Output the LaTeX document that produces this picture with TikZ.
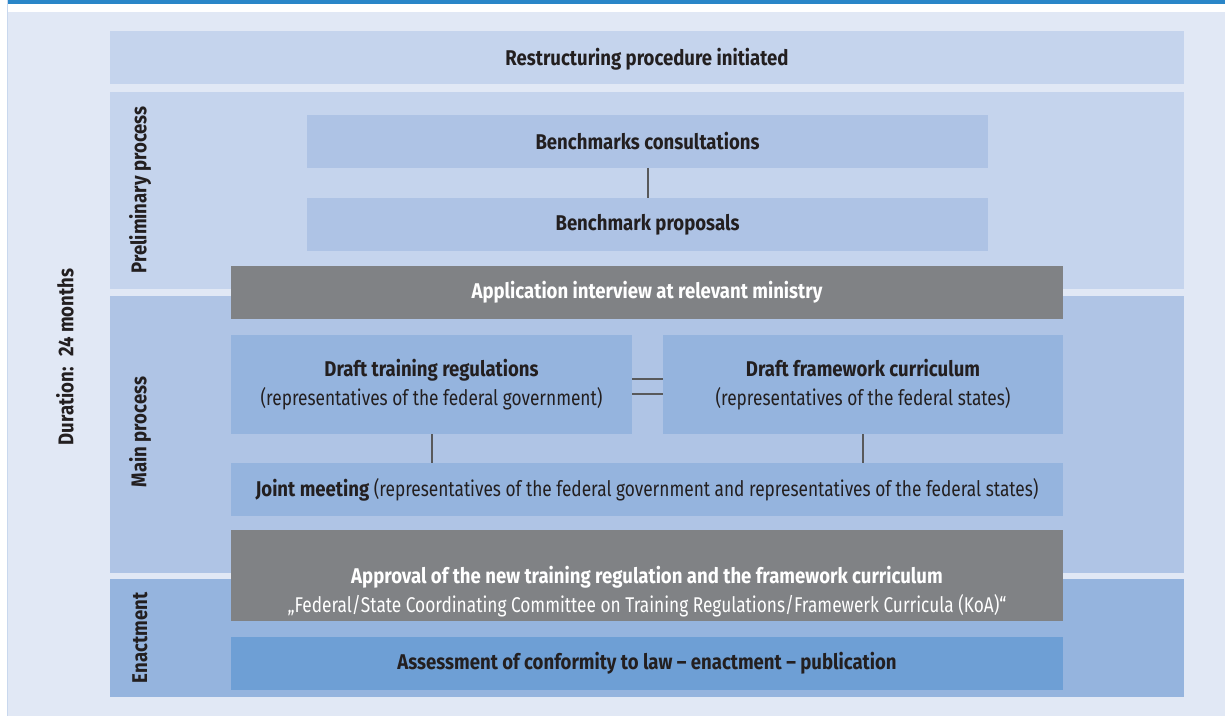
\documentclass[tikz,border=0pt]{standalone}
\usepackage{fontspec}
\setmainfont{Fira Sans}[FakeStretch=0.81, BoldFeatures={FakeStretch=0.87}]
\usetikzlibrary{calc}
\definecolor{topblue}{HTML}{2A86C8}
\definecolor{pagebg}{HTML}{E1E8F5}
\definecolor{edgeline}{HTML}{C9D8EE}
\definecolor{bandA}{HTML}{C5D4ED}
\definecolor{bandB}{HTML}{AFC4E5}
\definecolor{bandC}{HTML}{95B4DE}
\definecolor{benchbox}{HTML}{AEC3E5}
\definecolor{draftbox}{HTML}{95B4DE}
\definecolor{greybox}{HTML}{808285}
\definecolor{lawbox}{HTML}{6E9FD5}
\definecolor{ink}{HTML}{231F20}
\definecolor{linegrey}{HTML}{58595B}
\tikzset{
  blk/.style={draw=none, inner sep=0pt, outer sep=0pt, anchor=center},
  sz/.style 2 args={minimum width=#1*0.75pt, minimum height=#2*0.75pt},
  lbl/.style={inner sep=0pt, align=center, text=ink, font=\fontsize{16}{21.75}\selectfont},
  lblw/.style={lbl, text=white},
  bold/.style={font=\fontsize{16}{19}\selectfont\bfseries},
  conn/.style={draw=linegrey, line width=1.5pt},
}
\begin{document}
\begin{tikzpicture}[x=0.75pt, y=-0.75pt]
\useasboundingbox (0,0) rectangle (1225,716);
\fill[white] (0,0) rectangle (1225,716);
\fill[pagebg] (7,12) rectangle (1225,716);
\fill[topblue] (7,0) rectangle (1225,4);
\draw[edgeline, line width=0.75pt] (7.5,0) -- (7.5,716);
% bands
\node[blk, fill=bandA, sz={1074}{53}] (restr) at (647,57.5) {};
\node[blk, fill=bandA, sz={1074}{197}] (prelim) at (647,190.5) {};
\node[blk, fill=bandB, sz={1074}{277}] (mainp) at (647,434.5) {};
\node[blk, fill=bandC, sz={1074}{118}] (enact) at (647,638) {};
% band labels
\node[lbl, bold] (restrtxt) at (647,59.5) {Restructuring procedure initiated};
\node[lbl, bold, rotate=90] (duration) at (65,357) {Duration:~ 24 months};
\node[lbl, bold, rotate=90] (prelimtxt) at (140,190) {Preliminary process};
\node[lbl, bold, rotate=90] (maintxt) at (140,432) {Main process};
\node[lbl, bold, rotate=90] (enacttxt) at (140,638) {Enactment};
% inner boxes
\node[blk, fill=benchbox, sz={681}{53}, lbl, bold] (consult) at (647.5,141.5) {Benchmarks consultations};
\node[blk, fill=benchbox, sz={681}{53}, lbl, bold] (proposals) at (647.5,224.5) {Benchmark proposals};
\node[blk, fill=greybox, sz={832}{53}, lblw, bold] (interview) at (647,292.5) {Application interview at relevant ministry};
\node[blk, fill=draftbox, sz={401}{99}, lbl] (regs) at (431.5,385) {\textbf{Draft training regulations}\\(representatives of the federal government)};
\node[blk, fill=draftbox, sz={400}{99}, lbl] (curric) at (863,385) {\textbf{Draft framework curriculum}\\(representatives of the federal states)};
\node[blk, fill=draftbox, sz={832}{53}, lbl] (joint) at (647,489.5) {\textbf{Joint meeting} (representatives of the federal government and representatives of the federal states)};
\node[blk, fill=greybox, sz={832}{91}] (approval) at (647,575.5) {};
\node[lblw] (approvaltxt) at (647,592) {\textbf{Approval of the new training regulation and the framework curriculum}\\„Federal/State Coordinating Committee on Training Regulations/Framewerk Curricula (KoA)“};
\node[blk, fill=lawbox, sz={832}{53}, lbl, bold] (law) at (647,663.5) {Assessment of conformity to law – enactment – publication};
% connectors
\draw[conn] (consult.south) -- (proposals.north);
\draw[conn] ([yshift=4.5pt]regs.east) -- ([yshift=4.5pt]curric.west);
\draw[conn] ([yshift=-6.7pt]regs.east) -- ([yshift=-6.7pt]curric.west);
\draw[conn] (regs.south) -- (regs.south |- joint.north);
\draw[conn] (curric.south) -- (curric.south |- joint.north);
\end{tikzpicture}
\end{document}
